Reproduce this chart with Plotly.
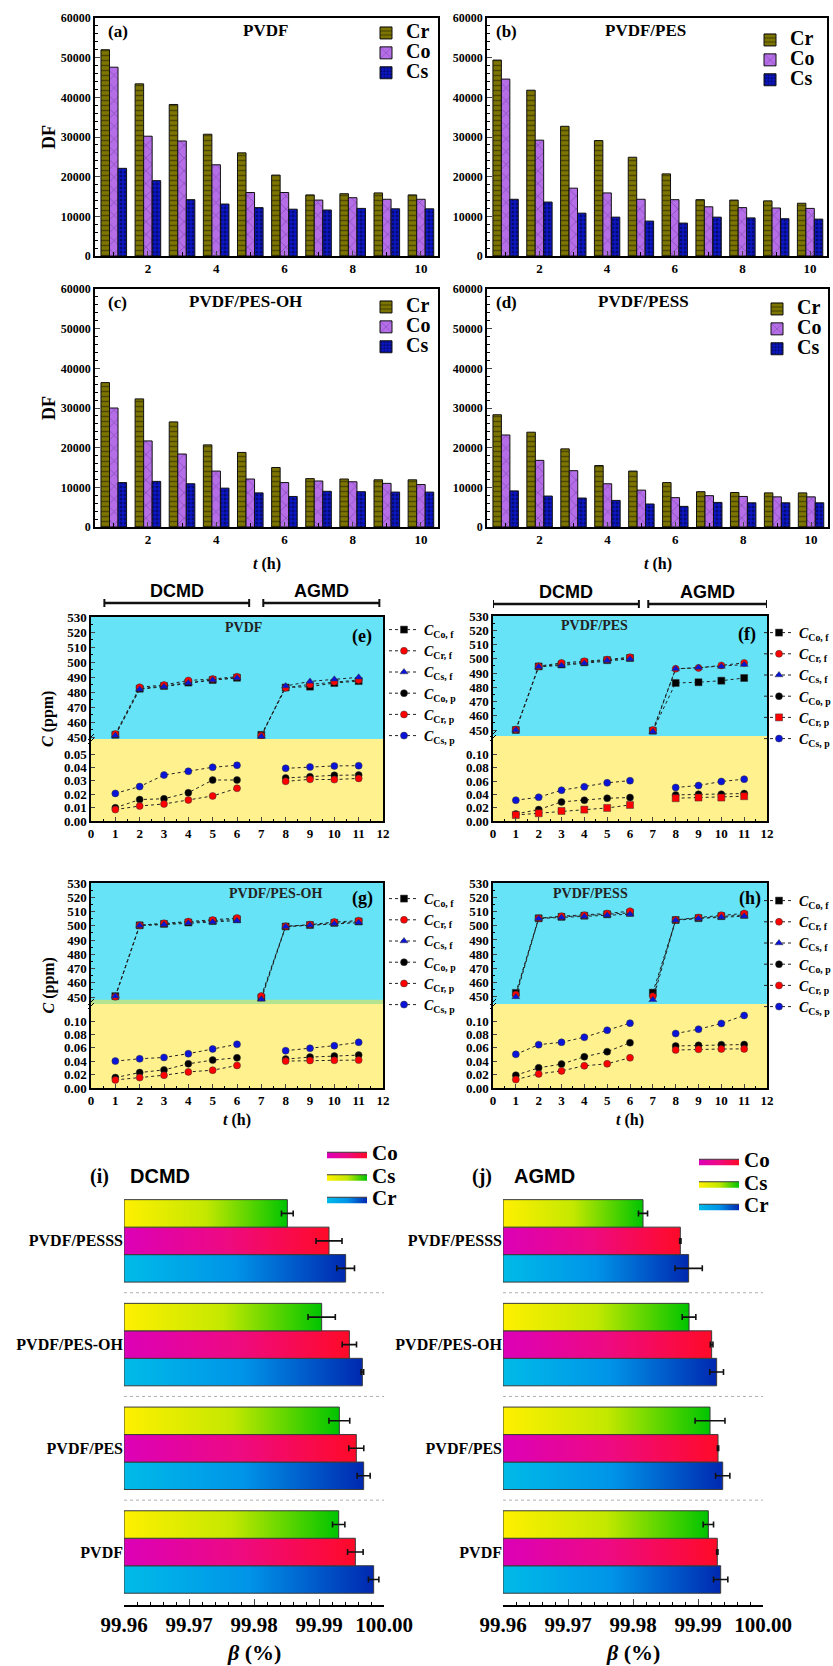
import plotly.graph_objects as go

W, H = 833, 1666
SERIF = "Liberation Serif"
SANS = "Liberation Sans"


def fx(px):
    return px / W


def fy(py):
    return 1 - py / H


# ---------------- DATA ----------------
HOURS = [1, 2, 3, 4, 5, 6, 7, 8, 9, 10]
SERIES = ["Cr", "Co", "Cs"]

# DF bar panels (a)-(d)
a_cr = [52000, 43400, 38200, 30700, 26000, 20400, 15400, 15700, 15900, 15400]
a_co = [47600, 30200, 29000, 23000, 16000, 16000, 14100, 14700, 14300, 14300]
a_cs = [22100, 19000, 14200, 13100, 12200, 11800, 11600, 12000, 11900, 11900]
b_cr = [49400, 41800, 32700, 29100, 24900, 20700, 14200, 14100, 13900, 13300]
b_co = [44600, 29200, 17100, 15900, 14300, 14200, 12400, 12200, 12100, 12000]
b_cs = [14300, 13600, 10800, 9800, 8800, 8300, 9800, 9600, 9400, 9300]
c_cr = [36400, 32300, 26500, 20700, 18800, 15000, 12200, 12100, 11900, 11900]
c_co = [30000, 21700, 18400, 14100, 12100, 11200, 11600, 11400, 11000, 10700]
c_cs = [11200, 11500, 10900, 9800, 8600, 7700, 9000, 8900, 8800, 8800]
d_cr = [28300, 23900, 19700, 15500, 14100, 11200, 8900, 8700, 8600, 8600]
d_co = [23200, 16800, 14200, 10900, 9300, 7400, 7900, 7700, 7600, 7600]
d_cs = [9100, 7800, 7300, 6700, 5800, 5200, 6200, 6100, 6100, 6100]

# Concentration panels (e)-(h)
T_FEED_DCMD = [1, 2, 3, 4, 5, 6]
T_FEED_AGMD = [7, 8, 9, 10, 11]
T_PERM_DCMD = [1, 2, 3, 4, 5, 6]
T_PERM_AGMD = [8, 9, 10, 11]
X_TICKS = [0, 1, 2, 3, 4, 5, 6, 7, 8, 9, 10, 11, 12]
FEED_TICKS = [450, 460, 470, 480, 490, 500, 510, 520, 530]

# feed: 6 DCMD values (t=1..6) then 5 AGMD values (t=7..11)
e_co_f = [451.5, 482.2, 484.0, 486.3, 488.0, 489.5, 451.5, 483.0, 483.6, 486.0, 487.3]
e_cr_f = [452.0, 483.2, 484.7, 487.7, 488.7, 490.2, 451.0, 482.8, 485.1, 486.8, 488.0]
e_cs_f = [451.0, 481.8, 483.6, 486.0, 488.0, 489.4, 450.4, 484.0, 487.1, 488.5, 489.8]
# permeate: 6 DCMD values (t=1..6) then 4 AGMD values (t=8..11)
e_co_p = [0.0099, 0.0160, 0.0166, 0.0211, 0.0306, 0.0306, 0.0321, 0.0331, 0.0341, 0.0343]
e_cr_p = [0.0085, 0.0112, 0.0127, 0.0157, 0.0187, 0.0244, 0.0296, 0.0311, 0.0309, 0.0318]
e_cs_p = [0.0206, 0.0257, 0.0343, 0.0371, 0.0401, 0.0416, 0.0393, 0.0403, 0.0411, 0.0413]

f_co_f = [450.0, 494.6, 496.0, 497.5, 499.0, 500.5, 449.5, 483.0, 483.5, 484.6, 486.5]
f_cr_f = [450.4, 494.8, 497.1, 498.2, 499.4, 501.1, 450.0, 493.0, 493.6, 495.3, 497.1]
f_cs_f = [450.0, 494.4, 495.3, 496.8, 498.7, 499.9, 448.8, 492.9, 493.8, 494.6, 495.9]
f_co_p = [0.0106, 0.0171, 0.0287, 0.0312, 0.0342, 0.0352, 0.0392, 0.0402, 0.0402, 0.0412]
f_cr_p = [0.0090, 0.0116, 0.0151, 0.0171, 0.0196, 0.0241, 0.0342, 0.0352, 0.0352, 0.0372]
f_cs_p = [0.0312, 0.0357, 0.0462, 0.0513, 0.0573, 0.0606, 0.0503, 0.0533, 0.0593, 0.0628]

g_co_f = [450.6, 500.3, 501.3, 502.3, 503.3, 504.5, 449.6, 499.5, 500.5, 502.0, 503.0]
g_cr_f = [450.2, 500.4, 501.7, 502.9, 504.0, 505.4, 450.7, 499.6, 500.8, 502.6, 503.6]
g_cs_f = [450.6, 500.2, 500.8, 501.9, 502.6, 503.6, 448.4, 499.4, 500.3, 501.4, 502.2]
g_co_p = [0.0156, 0.0231, 0.0271, 0.0362, 0.0417, 0.0452, 0.0432, 0.0462, 0.0477, 0.0492]
g_cr_p = [0.0121, 0.0156, 0.0191, 0.0241, 0.0266, 0.0337, 0.0402, 0.0412, 0.0414, 0.0417]
g_cs_p = [0.0402, 0.0437, 0.0457, 0.0513, 0.0583, 0.0653, 0.0558, 0.0593, 0.0633, 0.0683]

h_co_f = [452.8, 505.2, 506.2, 507.0, 508.0, 509.0, 453.0, 504.0, 505.3, 506.7, 507.6]
h_cr_f = [451.6, 505.3, 506.7, 507.4, 508.6, 510.2, 450.5, 504.1, 505.8, 507.4, 508.6]
h_cs_f = [450.0, 505.0, 505.8, 506.5, 507.4, 508.1, 447.9, 503.8, 505.1, 506.0, 506.7]
h_co_p = [0.0191, 0.0302, 0.0357, 0.0467, 0.0543, 0.0678, 0.0628, 0.0638, 0.0648, 0.0650]
h_cr_p = [0.0126, 0.0211, 0.0256, 0.0332, 0.0362, 0.0452, 0.0568, 0.0578, 0.0583, 0.0585]
h_cs_p = [0.0503, 0.0648, 0.0683, 0.0759, 0.0864, 0.0970, 0.0814, 0.0879, 0.0965, 0.1085]

# Rejection panels (i), (j): order bottom -> top
MEMBRANES = ["PVDF", "PVDF/PES", "PVDF/PES-OH", "PVDF/PESSS"]
BETA_TICKS = [99.96, 99.97, 99.98, 99.99, 100.00]
BETA_BASE = 99.96
dc_cr = [99.99841, 99.99687, 99.99667, 99.99410]
dc_cr_err = [0.0008, 0.0010, 0.0002, 0.00136]
dc_co = [99.99559, 99.99574, 99.99467, 99.99154]
dc_co_err = [0.0012, 0.00115, 0.0011, 0.0020]
dc_cs = [99.99303, 99.99313, 99.99041, 99.98513]
dc_cs_err = [0.00095, 0.0016, 0.0021, 0.0009]
ag_cr = [99.99349, 99.99380, 99.99287, 99.98856]
ag_cr_err = [0.0011, 0.0011, 0.00105, 0.0021]
ag_co = [99.99297, 99.99308, 99.99210, 99.98728]
ag_co_err = [0.0001, 0.0001, 0.0002, 0.0001]
ag_cs = [99.99159, 99.99185, 99.98862, 99.98154]
ag_cs_err = [0.0008, 0.0023, 0.00105, 0.0007]

# ---------------- STYLES ----------------
BAR_STYLE = {
    "Cr": dict(color="#7d7500", shape="-", fg="#1c1a00", size=5, sol=0.3),
    "Co": dict(color="#b56ee8", shape="x", fg="#4b2377", size=9, sol=0.15),
    "Cs": dict(color="#0c16c4", shape=".", fg="#000022", size=4, sol=0.45),
}
CYAN = "#66e3f7"
YELLOW = "#fff28e"
GREEN = "#b5e38f"

fig = go.Figure()
layout = {}
shapes = []
annotations = []


def axname(i, kind):
    return f"{kind}axis" if i == 1 else f"{kind}axis{i}"


def axref(i, kind):
    return kind if i == 1 else f"{kind}{i}"


def big(text, size):
    return f"<span style='font-size:{size}px'>{text}</span>"


def ann(text, xpx, ypx, size, family=SERIF, xanchor="center", yanchor="middle", angle=0):
    annotations.append(dict(text=text, x=fx(xpx), y=fy(ypx), xref="paper", yref="paper",
                            showarrow=False, xanchor=xanchor, yanchor=yanchor, textangle=angle,
                            font=dict(family=family, size=size, color="black", weight="bold")))


def legend_cfg(xpx, ypx, size, **kw):
    d = dict(x=fx(xpx), y=fy(ypx), xanchor="left", yanchor="top", xref="paper", yref="paper",
             bgcolor="rgba(0,0,0,0)", borderwidth=0, tracegroupgap=0,
             font=dict(family=SERIF, size=size, color="black", weight="bold"))
    d.update(kw)
    return d


# ---------------- (a)-(d) bar panels ----------------
bar_panels = [
    dict(i=1, data=(a_cr, a_co, a_cs), xb=(95, 438), yb=(18, 256), leg="legend", lxy=(366, 18),
         lab="(a)", labxy=(106, 32), title="PVDF", txy=(265, 31), ylab=True, xlab=False),
    dict(i=2, data=(b_cr, b_co, b_cs), xb=(487, 827), yb=(18, 256), leg="legend2", lxy=(750, 25),
         lab="(b)", labxy=(494, 32), title="PVDF/PES", txy=(645, 31), ylab=False, xlab=False),
    dict(i=3, data=(c_cr, c_co, c_cs), xb=(95, 438), yb=(289, 527), leg="legend3", lxy=(366, 292),
         lab="(c)", labxy=(106, 302), title="PVDF/PES-OH", txy=(245, 301), ylab=True, xlab=True),
    dict(i=4, data=(d_cr, d_co, d_cs), xb=(487, 828), yb=(289, 527), leg="legend4", lxy=(757, 294),
         lab="(d)", labxy=(494, 302), title="PVDF/PESS", txy=(643, 301), ylab=False, xlab=True),
]

for p in bar_panels:
    i = p["i"]
    for name, vals in zip(SERIES, p["data"]):
        st = BAR_STYLE[name]
        fig.add_trace(go.Bar(
            x=HOURS, y=vals, name=big(name, 20), xaxis=axref(i, "x"), yaxis=axref(i, "y"),
            legend=p["leg"],
            marker=dict(color=st["color"], line=dict(color="#111", width=1),
                        pattern=dict(shape=st["shape"], fgcolor=st["fg"], bgcolor=st["color"],
                                     size=st["size"], solidity=st["sol"])),
        ))
    layout[axname(i, "x")] = dict(
        domain=[fx(p["xb"][0]), fx(p["xb"][1])], anchor=axref(i, "y"), range=[0.45, 10.5],
        tickmode="linear", tick0=2, dtick=2, ticks="inside", ticklen=5,
        minor=dict(tick0=1, dtick=1, ticks="inside", ticklen=4, tickcolor="black"),
        showline=True, linecolor="black", linewidth=1.5, mirror=True, showgrid=False, zeroline=False,
        tickfont=dict(family=SERIF, size=13, color="black", weight="bold"))
    layout[axname(i, "y")] = dict(
        domain=[fy(p["yb"][1]), fy(p["yb"][0])], anchor=axref(i, "x"), range=[0, 60000],
        tickmode="linear", tick0=0, dtick=10000, tickformat="d", ticks="inside", ticklen=5,
        minor=dict(dtick=2000, ticks="inside", ticklen=3, tickcolor="black"),
        showline=True, linecolor="black", linewidth=1.5, mirror=True, showgrid=False, zeroline=False,
        tickfont=dict(family=SERIF, size=12, color="black", weight="bold"))
    layout[p["leg"]] = legend_cfg(p["lxy"][0], p["lxy"][1], 13)
    ann(p["lab"], p["labxy"][0], p["labxy"][1], 17, xanchor="left")
    ann(p["title"], p["txy"][0], p["txy"][1], 17)
    yc = (p["yb"][0] + p["yb"][1]) / 2
    if p["ylab"]:
        ann("DF", 49, yc, 18, angle=-90)
    if p["xlab"]:
        xc = (p["xb"][0] + p["xb"][1]) / 2
        ann("<i>t</i> (h)", xc, 564, 16)

# ---------------- (e)-(h) broken-axis line panels ----------------
LINE_STYLE = {
    "Co, f": dict(color="black", symbol="square"),
    "Cr, f": dict(color="red", symbol="circle"),
    "Cs, f": dict(color="#0a14d8", symbol="triangle-up"),
    "Co, p": dict(color="black", symbol="circle"),
    "Cr, p": dict(color="red", symbol="circle"),
    "Cs, p": dict(color="#0a14d8", symbol="circle"),
}

line_panels = [
    dict(up=5, lo=6, xb=(91, 383), yb=(617, 739, 821), up_min=448.7, lo_max=0.0612,
         lo_ticks=[0.00, 0.01, 0.02, 0.03, 0.04, 0.05],
         feed=(e_co_f, e_cr_f, e_cs_f), perm=(e_co_p, e_cr_p, e_cs_p), leg="legend5", lxy=(384, 614),
         name="PVDF", nxy=(223, 628), lab="(e)", labxy=(362, 636), ylab=True, xlab=False,
         green=None, crp_symbol="circle"),
    dict(up=7, lo=8, xb=(493, 767), yb=(616, 736, 821), up_min=445.8, lo_max=0.1276,
         lo_ticks=[0.00, 0.02, 0.04, 0.06, 0.08, 0.10],
         feed=(f_co_f, f_cr_f, f_cs_f), perm=(f_co_p, f_cr_p, f_cs_p), leg="legend6", lxy=(759, 617),
         name="PVDF/PES", nxy=(630, 626), lab="(f)", labxy=(747, 635), ylab=False, xlab=False,
         green=None, crp_symbol="square"),
    dict(up=9, lo=10, xb=(91, 383), yb=(883, 1004, 1088), up_min=445.1, lo_max=0.1256,
         lo_ticks=[0.00, 0.02, 0.04, 0.06, 0.08, 0.10],
         feed=(g_co_f, g_cr_f, g_cs_f), perm=(g_co_p, g_cr_p, g_cs_p), leg="legend7", lxy=(384, 883),
         name="PVDF/PES-OH", nxy=(227, 893), lab="(g)", labxy=(362, 898), ylab=True, xlab=True,
         green=448.1, crp_symbol="circle"),
    dict(up=11, lo=12, xb=(493, 767), yb=(883, 1004, 1088), up_min=445.0, lo_max=0.1256,
         lo_ticks=[0.00, 0.02, 0.04, 0.06, 0.08, 0.10],
         feed=(h_co_f, h_cr_f, h_cs_f), perm=(h_co_p, h_cr_p, h_cs_p), leg="legend8", lxy=(759, 885),
         name="PVDF/PESS", nxy=(630, 893), lab="(h)", labxy=(750, 898), ylab=False, xlab=True,
         green=None, crp_symbol="circle"),
]


def with_gap(t1, t2, v):
    n = len(t1)
    return t1 + [None] + t2, list(v[:n]) + [None] + list(v[n:])


TICKFONT = dict(family=SERIF, size=13, color="black", weight="bold")

for p in line_panels:
    up, lo = p["up"], p["lo"]
    entries = []
    for key, vals in zip(["Co, f", "Cr, f", "Cs, f"], p["feed"]):
        xs, ys = with_gap(T_FEED_DCMD, T_FEED_AGMD, vals)
        entries.append((key, xs, ys, up))
    for key, vals in zip(["Co, p", "Cr, p", "Cs, p"], p["perm"]):
        xs, ys = with_gap(T_PERM_DCMD, T_PERM_AGMD, vals)
        entries.append((key, xs, ys, lo))
    for key, xs, ys, ax in entries:
        st = LINE_STYLE[key]
        sym = p["crp_symbol"] if key == "Cr, p" else st["symbol"]
        fig.add_trace(go.Scatter(
            x=xs, y=ys, mode="lines+markers", name=f"<i>C</i><sub>{key}</sub>",
            xaxis=axref(ax, "x"), yaxis=axref(ax, "y"), legend=p["leg"],
            line=dict(color="#222", width=1, dash="dot"),
            marker=dict(color=st["color"], symbol=sym, size=7, line=dict(color="#333", width=0.5)),
        ))
    xd = [fx(p["xb"][0]), fx(p["xb"][1])]
    y_top, y_brk, y_bot = p["yb"]
    layout[axname(up, "x")] = dict(domain=xd, anchor=axref(up, "y"), range=[0, 12], side="top",
                                   showticklabels=False, ticks="", showline=True, linecolor="black",
                                   linewidth=1.5, showgrid=False, zeroline=False, matches=axref(lo, "x"))
    layout[axname(up, "y")] = dict(domain=[fy(y_brk), fy(y_top)], anchor=axref(up, "x"),
                                   range=[p["up_min"], 530], tickmode="array", tickvals=FEED_TICKS,
                                   ticks="inside", ticklen=4,
                                   minor=dict(dtick=5, ticks="inside", ticklen=2, tickcolor="black"),
                                   showline=True, linecolor="black", linewidth=1.5, mirror=True,
                                   showgrid=False, zeroline=False, tickfont=TICKFONT)
    layout[axname(lo, "x")] = dict(domain=xd, anchor=axref(lo, "y"), range=[0, 12], tickmode="array",
                                   tickvals=X_TICKS, ticks="inside", ticklen=4,
                                   minor=dict(dtick=0.5, ticks="inside", ticklen=2, tickcolor="black"),
                                   showline=True, linecolor="black", linewidth=1.5, showgrid=False,
                                   zeroline=False, tickfont=TICKFONT)
    layout[axname(lo, "y")] = dict(domain=[fy(y_bot), fy(y_brk)], anchor=axref(lo, "x"),
                                   range=[0, p["lo_max"]], tickmode="array", tickvals=p["lo_ticks"],
                                   tickformat=".2f", ticks="inside", ticklen=4,
                                   showline=True, linecolor="black", linewidth=1.5, mirror=True,
                                   showgrid=False, zeroline=False, tickfont=TICKFONT)
    shapes.append(dict(type="rect", xref=f"{axref(up, 'x')} domain", yref=f"{axref(up, 'y')} domain",
                       x0=0, x1=1, y0=0, y1=1, fillcolor=CYAN, line=dict(width=0), layer="below"))
    shapes.append(dict(type="rect", xref=f"{axref(lo, 'x')} domain", yref=f"{axref(lo, 'y')} domain",
                       x0=0, x1=1, y0=0, y1=1, fillcolor=YELLOW, line=dict(width=0), layer="below"))
    if p["green"] is not None:
        shapes.append(dict(type="rect", xref=f"{axref(up, 'x')} domain", yref=axref(up, "y"),
                           x0=0, x1=1, y0=p["up_min"], y1=p["green"], fillcolor=GREEN,
                           line=dict(width=0), layer="below"))
    # axis-break marks on the left spine
    xl = p["xb"][0]
    for dy in (-2, 2):
        shapes.append(dict(type="line", xref="paper", yref="paper", x0=fx(xl - 3), x1=fx(xl + 3),
                           y0=fy(y_brk + dy + 3), y1=fy(y_brk + dy - 3),
                           line=dict(color="black", width=1)))
    layout[p["leg"]] = legend_cfg(p["lxy"][0], p["lxy"][1], 14, itemwidth=30)
    annotations.append(dict(text=p["name"], x=p["nxy"][0] / W, y=fy(p["nxy"][1]), xref="paper",
                            yref="paper", showarrow=False,
                            font=dict(family=SERIF, size=14, color="#222", weight="bold")))
    ann(p["lab"], p["labxy"][0], p["labxy"][1], 18)
    if p["ylab"]:
        ann("<i>C</i> (ppm)", 48, (y_top + y_bot) / 2, 16, angle=-90)
    if p["xlab"]:
        ann("<i>t</i> (h)", (p["xb"][0] + p["xb"][1]) / 2, 1120, 16)

# DCMD / AGMD brackets above (e) and (f)
brackets = [
    (6, [(0.55, 6.5, "DCMD"), (7.08, 11.85, "AGMD")], 603, 591),
    (8, [(0.0, 6.39, "DCMD"), (6.8, 12.0, "AGMD")], 604, 592),
]
for ax, segs, ybar, ytxt in brackets:
    for x0, x1, label in segs:
        shapes.append(dict(type="line", xref=axref(ax, "x"), yref="paper", x0=x0, x1=x1,
                           y0=fy(ybar), y1=fy(ybar), line=dict(color="#111", width=2.5)))
        for xe in (x0, x1):
            shapes.append(dict(type="line", xref=axref(ax, "x"), yref="paper", x0=xe, x1=xe,
                               y0=fy(ybar - 4), y1=fy(ybar + 4), line=dict(color="#111", width=2)))
        annotations.append(dict(text=label, x=(x0 + x1) / 2, y=fy(ytxt), xref=axref(ax, "x"),
                                yref="paper", showarrow=False, yanchor="middle",
                                font=dict(family=SANS, size=18, color="black", weight="bold")))

# ---------------- (i), (j) rejection panels ----------------
GRAD = {
    "Co": [[0, "#dc00b8"], [0.5, "#ee0a82"], [1, "#ff0a28"]],
    "Cs": [[0, "#fff000"], [0.5, "#c4e800"], [1, "#00c400"]],
    "Cr": [[0, "#00bbe8"], [0.5, "#0094e8"], [1, "#0028b0"]],
}
OFFSET = {"Cr": -0.265, "Co": 0.0, "Cs": 0.265}
HALF = 0.1325
RANK = {"Co": 1, "Cs": 2, "Cr": 3}

beta_panels = [
    dict(i=13, xb=(124, 384), data={"Cr": (dc_cr, dc_cr_err), "Co": (dc_co, dc_co_err),
                                    "Cs": (dc_cs, dc_cs_err)},
         leg="legend9", lxy=(322, 1138), tag="(i)", tagx=88, mode="DCMD", modex=128),
    dict(i=14, xb=(503, 763), data={"Cr": (ag_cr, ag_cr_err), "Co": (ag_co, ag_co_err),
                                    "Cs": (ag_cs, ag_cs_err)},
         leg="legend10", lxy=(694, 1145), tag="(j)", tagx=470, mode="AGMD", modex=512),
]

for p in beta_panels:
    i = p["i"]
    xr, yr = axref(i, "x"), axref(i, "y")
    for name in SERIES:
        vals, errs = p["data"][name]
        for k, v in enumerate(vals):
            c = k + OFFSET[name]
            fig.add_trace(go.Scatter(
                x=[BETA_BASE, v, v, BETA_BASE, BETA_BASE],
                y=[c - HALF, c - HALF, c + HALF, c + HALF, c - HALF],
                mode="lines", fill="toself",
                fillgradient=dict(type="horizontal", colorscale=GRAD[name]),
                line=dict(color="#3a3a3a", width=1), name=big(name, 21),
                legendrank=RANK[name], showlegend=(k == 0), legend=p["leg"],
                xaxis=xr, yaxis=yr, hoverinfo="skip"))
        fig.add_trace(go.Scatter(
            x=vals, y=[k + OFFSET[name] for k in range(len(vals))], mode="markers",
            marker=dict(size=1, color="rgba(0,0,0,0)"),
            error_x=dict(type="data", array=errs, color="#111", thickness=1.6, width=3),
            showlegend=False, xaxis=xr, yaxis=yr, hoverinfo="skip"))
    layout[axname(i, "x")] = dict(
        domain=[fx(p["xb"][0]), fx(p["xb"][1])], anchor=yr, range=[BETA_TICKS[0], BETA_TICKS[-1]],
        tickmode="array", tickvals=BETA_TICKS, tickformat=".2f", ticks="inside", ticklen=6,
        minor=dict(tick0=BETA_TICKS[0], dtick=0.002, ticks="inside", ticklen=3, tickcolor="black"),
        showline=True, linecolor="black", linewidth=1.5, showgrid=False, zeroline=False,
        tickfont=dict(family=SERIF, size=21, color="black", weight="bold"))
    layout[axname(i, "y")] = dict(
        domain=[fy(1605), fy(1194)], anchor=xr, range=[-0.511, 3.452], tickmode="array",
        tickvals=list(range(len(MEMBRANES))), ticktext=MEMBRANES, ticks="", showline=False,
        showgrid=False, zeroline=False,
        tickfont=dict(family=SERIF, size=16, color="black", weight="bold"))
    for k in range(len(MEMBRANES) - 1):
        shapes.append(dict(type="line", xref=xr, yref=yr, x0=BETA_TICKS[0], x1=BETA_TICKS[-1],
                           y0=k + 0.5, y1=k + 0.5, line=dict(color="#b0b0b0", width=1, dash="dot")))
    layout[p["leg"]] = legend_cfg(p["lxy"][0], p["lxy"][1], 15, itemwidth=40)
    ann(p["tag"], p["tagx"], 1176, 20, xanchor="left")
    ann(p["mode"], p["modex"], 1176, 20, family=SANS, xanchor="left")
    ann("<i>β</i> (%)", (p["xb"][0] + p["xb"][1]) / 2, 1652, 22)

fig.update_layout(
    width=W, height=H, margin=dict(l=0, r=0, t=0, b=0, autoexpand=False),
    paper_bgcolor="white", plot_bgcolor="rgba(0,0,0,0)",
    barmode="group", bargap=0.25, bargroupgap=0.0,
    shapes=shapes, annotations=annotations, **layout,
)

fig.write_html("out.html")
